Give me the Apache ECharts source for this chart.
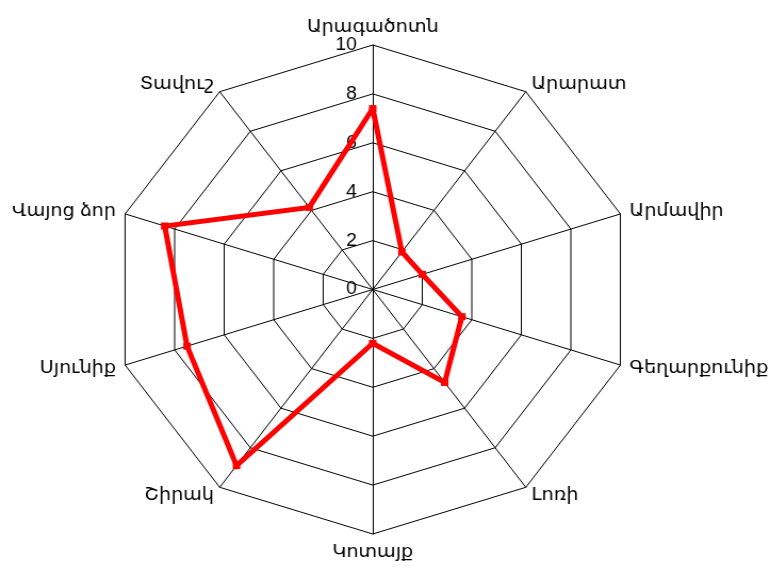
<!DOCTYPE html>
<html>
<head>
<meta charset="utf-8">
<script src="https://cdn.jsdelivr.net/npm/echarts@6/dist/echarts.min.js"></script>
<style>
  html, body { margin: 0; padding: 0; background: #fff; }
  /* the reference polygon is a bit wider than tall, so stretch the chart horizontally */
  #chart { width: 725px; height: 569px; transform: scaleX(1.065); transform-origin: 0 0; }
</style>
</head>
<body>
<div id="chart"></div>
<script>
// regions, clockwise from the top as in the picture
var regions = ['Արագածոտն', 'Արարատ', 'Արմավիր', 'Գեղարքունիք', 'Լոռի',
  'Կոտայք', 'Շիրակ', 'Սյունիք', 'Վայոց ձոր', 'Տավուշ']
var values = [7.4, 1.9, 2.0, 3.6, 4.7, 2.2, 8.9, 7.5, 8.4, 4.15]
var axisMax = 10

// echarts lays radar indicators out counter-clockwise, so keep the first and reverse the rest
var order = [0].concat(regions.map(function (r, i) { return i }).slice(1).reverse())

var font = 'Liberation Sans, Arial, DejaVu Sans, sans-serif'

var indicator = order.map(function (i, k) {
  var ind = { name: regions[i], min: 0, max: axisMax }
  if (k === 0) {
    // only the top axis carries the 0..10 labels
    ind.axisLabel = { show: true, color: '#000', fontSize: 18, fontFamily: font, margin: 15 }
  }
  return ind
})

var myChart = echarts.init(document.getElementById('chart'))
myChart.setOption({
  animation: false,
  backgroundColor: '#fff',
  radar: {
    center: [350, 289.5],
    radius: 244.5,
    startAngle: 90,
    shape: 'polygon',
    splitNumber: 5,
    indicator: indicator,
    axisName: { color: '#000', fontSize: 18, fontFamily: font },
    nameGap: 9,
    axisLine: { lineStyle: { color: '#000', width: 1 } },
    splitLine: { lineStyle: { color: '#000', width: 1 } },
    splitArea: { show: false },
    axisTick: { show: false },
    axisLabel: { show: false }
  },
  series: [{
    type: 'radar',
    symbol: 'rect',
    symbolSize: 7,
    itemStyle: { color: '#ff0000' },
    lineStyle: { color: '#ff0000', width: 5, join: 'miter' },
    data: [{ value: order.map(function (i) { return values[i] }) }]
  }]
})
</script>
</body>
</html>
